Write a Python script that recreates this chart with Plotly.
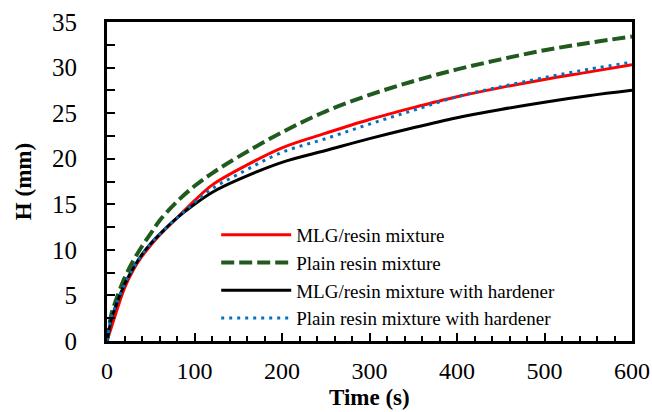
import plotly.graph_objects as go

time_s = [0, 5, 10, 20, 30, 40, 50, 60, 80, 100, 120, 150, 200, 250, 300, 350, 400, 450, 500, 550, 600]
mlg_resin = [0, 1.5, 3.0, 5.8, 7.8, 9.3, 10.5, 11.6, 13.5, 15.4, 17.1, 18.8, 21.2, 22.8, 24.3, 25.6, 26.8, 27.8, 28.7, 29.5, 30.3]
plain_resin = [0, 2.9, 4.4, 6.9, 8.8, 10.4, 11.8, 13.2, 15.3, 17.0, 18.4, 20.2, 22.9, 25.2, 27.0, 28.5, 29.8, 30.9, 31.9, 32.7, 33.4]
mlg_hardener = [0, 2.4, 3.8, 6.2, 8.0, 9.5, 10.7, 11.7, 13.5, 15.0, 16.3, 17.7, 19.6, 20.9, 22.2, 23.4, 24.5, 25.4, 26.2, 26.9, 27.5]
plain_hardener = [0, 2.6, 3.9, 6.2, 8.0, 9.5, 10.7, 11.7, 13.5, 15.2, 16.7, 18.3, 20.7, 22.2, 23.8, 25.3, 26.8, 27.9, 28.9, 29.8, 30.6]

names = ["MLG/resin mixture", "Plain resin mixture",
         "MLG/resin mixture with hardener", "Plain resin mixture with hardener"]
x_title = "Time (s)"
y_title = "H (mm)"

FONT = "Liberation Serif"

fig = go.Figure()
fig.add_trace(go.Scatter(x=time_s, y=mlg_resin, name=names[0], mode="lines",
                         line=dict(color="#FF0000", width=3, shape="spline")))
fig.add_trace(go.Scatter(x=time_s, y=plain_resin, name=names[1], mode="lines",
                         line=dict(color="#215A1E", width=4, dash="13px,5px", shape="spline")))
fig.add_trace(go.Scatter(x=time_s, y=mlg_hardener, name=names[2], mode="lines",
                         line=dict(color="#000000", width=3, shape="spline")))
fig.add_trace(go.Scatter(x=time_s, y=plain_hardener, name=names[3], mode="lines",
                         line=dict(color="#0070C0", width=3, dash="3px,5px", shape="spline")))

fig.update_layout(
    width=652, height=412,
    margin=dict(l=107, r=20, t=22, b=71, autoexpand=False),
    paper_bgcolor="white", plot_bgcolor="white",
    font=dict(family=FONT, color="black", size=25),
    showlegend=True,
    legend=dict(x=0.208, y=0.392, xanchor="left", yanchor="top",
                bgcolor="rgba(0,0,0,0)", font=dict(size=19, family=FONT),
                itemwidth=70, tracegroupgap=0),
    xaxis=dict(range=[0, 600], tickvals=[0, 100, 200, 300, 400, 500, 600],
               automargin=False,
               ticks="inside", ticklen=8, tickwidth=2, tickcolor="black",
               minor=dict(dtick=20, ticks="inside", ticklen=5, tickwidth=2, tickcolor="black"),
               showline=True, linewidth=3, linecolor="black", mirror=True,
               showgrid=False, zeroline=False,
               ticklabelstandoff=6,
               tickfont=dict(size=24)),
    yaxis=dict(range=[0, 35], tickvals=[0, 5, 10, 15, 20, 25, 30, 35],
               automargin=False,
               ticks="inside", ticklen=8, tickwidth=2, tickcolor="black",
               minor=dict(dtick=2.5, ticks="inside", ticklen=8, tickwidth=2, tickcolor="black"),
               showline=True, linewidth=3, linecolor="black", mirror=True,
               showgrid=False, zeroline=False,
               ticklabelstandoff=22,
               tickfont=dict(size=25),
               title=dict(text="<b>" + y_title + "</b>", font=dict(size=23), standoff=14)),
    annotations=[dict(text="<b>" + x_title + "</b>", xref="paper", yref="paper",
                      x=0.5, y=-0.222, xanchor="center", yanchor="bottom",
                      showarrow=False, font=dict(size=23, family=FONT))],
)

fig.write_html("out.html")
